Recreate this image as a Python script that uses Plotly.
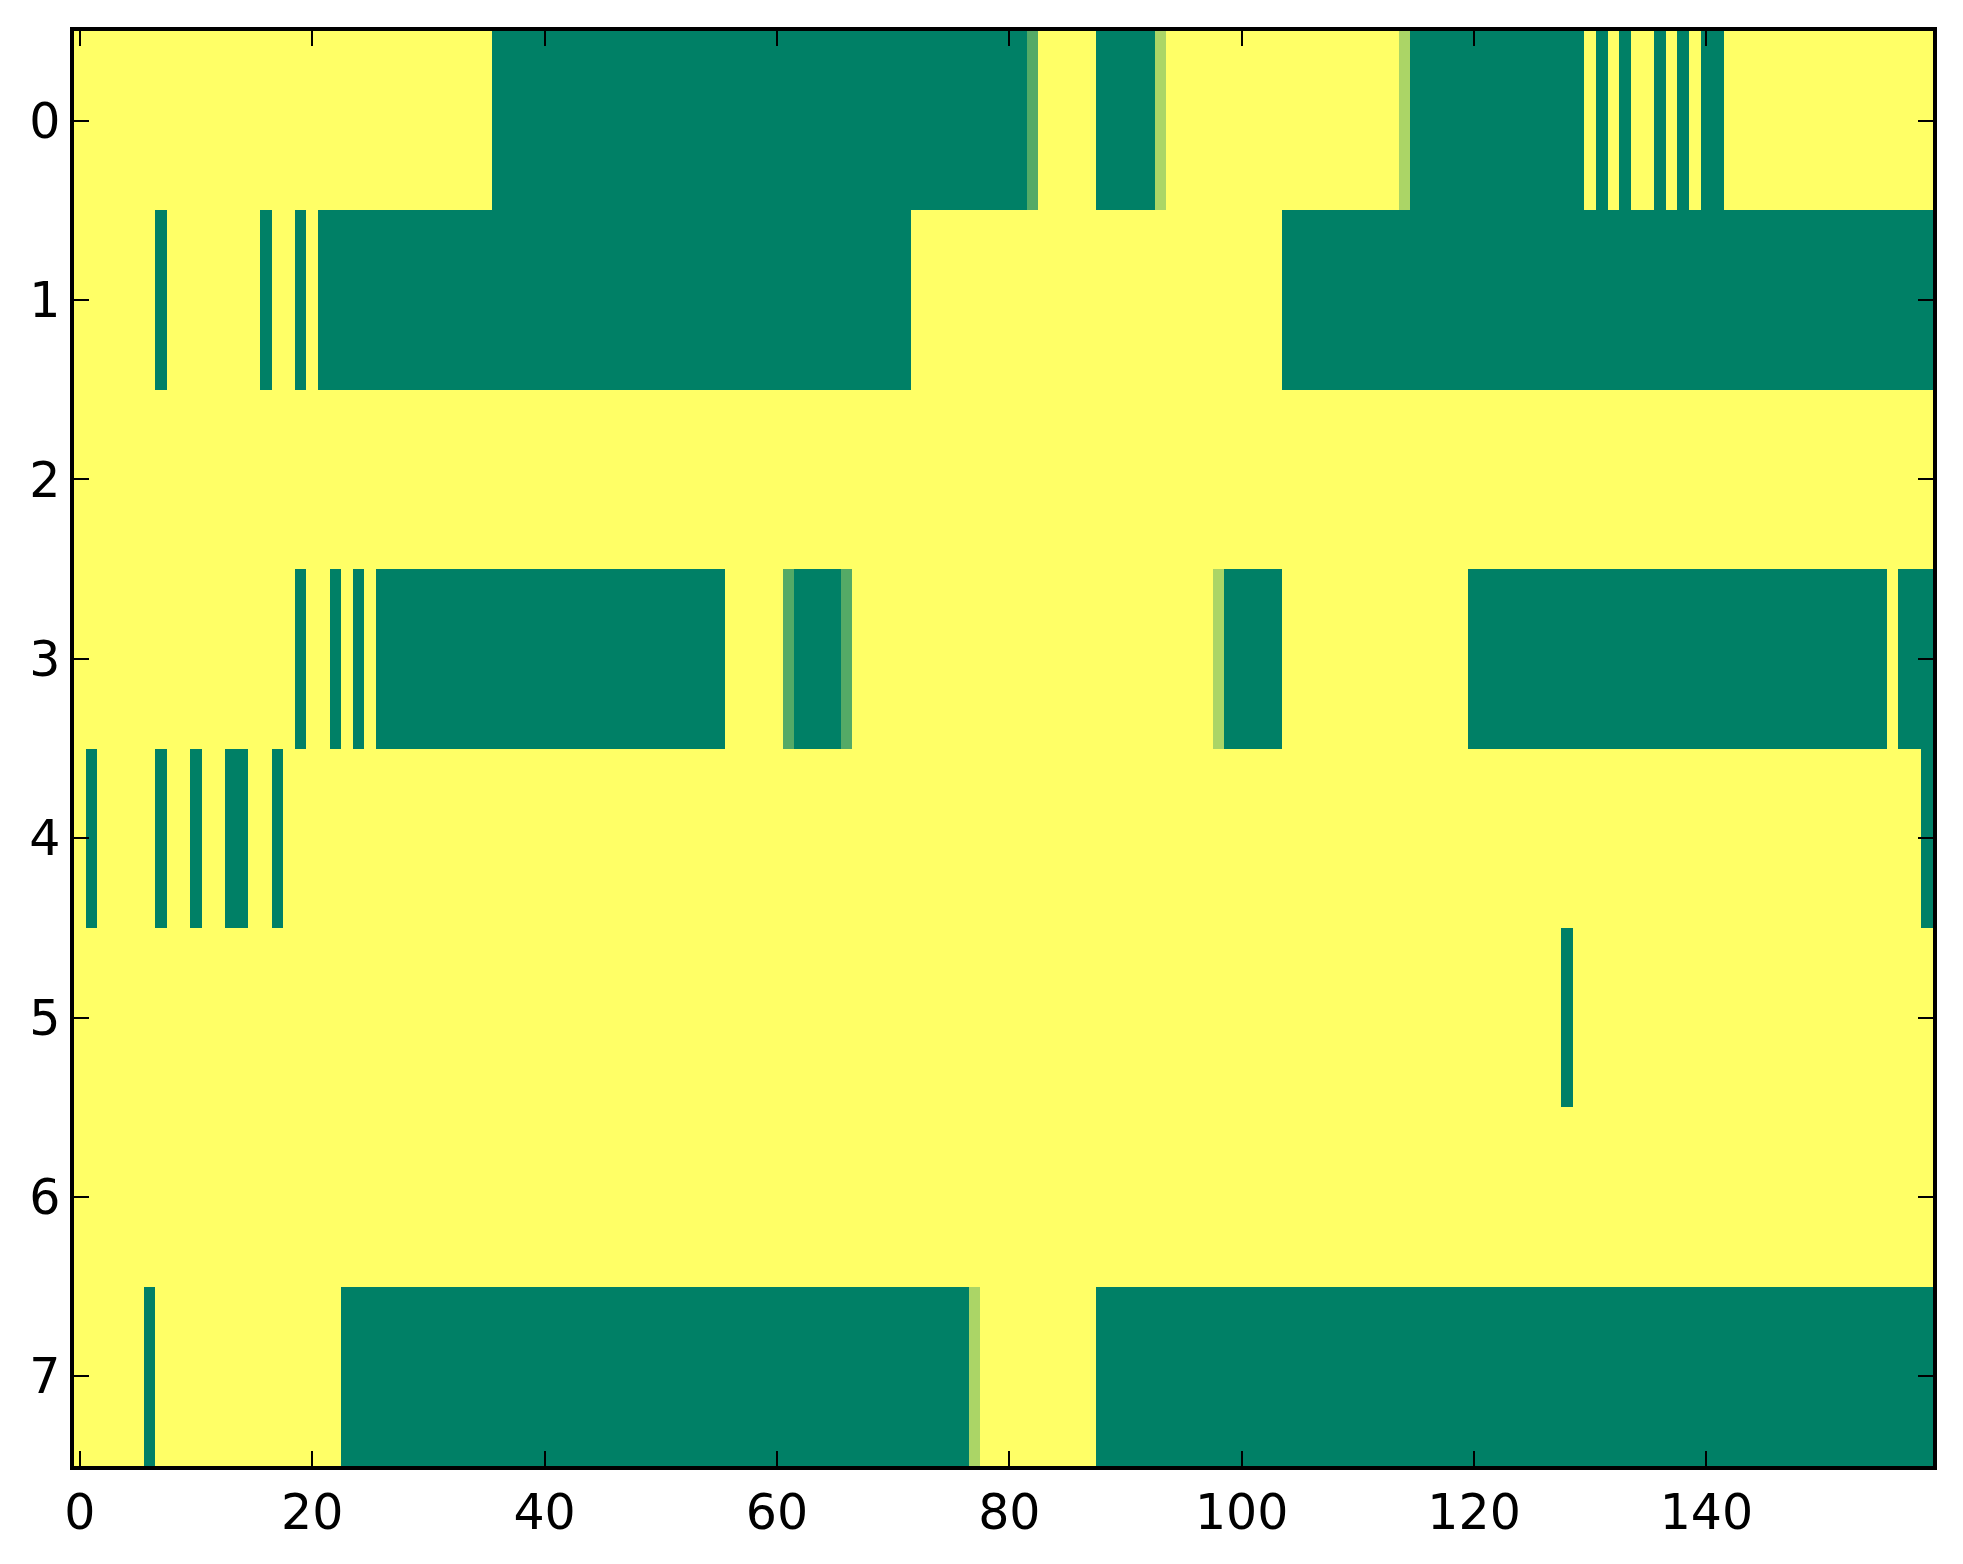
import plotly.graph_objects as go

# runs of (first column, last column, value) per row
row0 = [(0, 35, 1), (36, 81, 0), (82, 82, 0.33), (83, 87, 1), (88, 92, 0), (93, 93, 0.67),
        (94, 113, 1), (114, 114, 0.67), (115, 129, 0), (130, 130, 1), (131, 131, 0),
        (132, 132, 1), (133, 133, 0), (134, 135, 1), (136, 136, 0), (137, 137, 1),
        (138, 138, 0), (139, 139, 1), (140, 141, 0), (142, 159, 1)]
row1 = [(0, 6, 1), (7, 7, 0), (8, 15, 1), (16, 16, 0), (17, 18, 1), (19, 19, 0),
        (20, 20, 1), (21, 71, 0), (72, 103, 1), (104, 159, 0)]
row2 = [(0, 159, 1)]
row3 = [(0, 18, 1), (19, 19, 0), (20, 21, 1), (22, 22, 0), (23, 23, 1), (24, 24, 0),
        (25, 25, 1), (26, 55, 0), (56, 60, 1), (61, 61, 0.33), (62, 65, 0), (66, 66, 0.33),
        (67, 97, 1), (98, 98, 0.67), (99, 103, 0), (104, 119, 1), (120, 155, 0),
        (156, 156, 1), (157, 159, 0)]
row4 = [(0, 0, 1), (1, 1, 0), (2, 6, 1), (7, 7, 0), (8, 9, 1), (10, 10, 0), (11, 12, 1),
        (13, 14, 0), (15, 16, 1), (17, 17, 0), (18, 158, 1), (159, 159, 0)]
row5 = [(0, 127, 1), (128, 128, 0), (129, 159, 1)]
row6 = [(0, 159, 1)]
row7 = [(0, 5, 1), (6, 6, 0), (7, 22, 1), (23, 76, 0), (77, 77, 0.67), (78, 87, 1),
        (88, 159, 0)]

rows = [row0, row1, row2, row3, row4, row5, row6, row7]
n_cols = 160
x_ticks = [0, 20, 40, 60, 80, 100, 120, 140]
y_ticks = [0, 1, 2, 3, 4, 5, 6, 7]


def expand(runs):
    vals = []
    for a, b, v in runs:
        vals += [v] * (b - a + 1)
    return vals


z = [expand(r) for r in rows]

# matplotlib "summer" colormap
summer = [[0, "rgb(0,128,102)"], [1, "rgb(255,255,102)"]]

fig = go.Figure(go.Heatmap(
    z=z, x=list(range(n_cols)), y=list(range(len(rows))),
    colorscale=summer, zmin=0, zmax=1, showscale=False, hoverongaps=False,
))

axis_style = dict(
    showline=True, linecolor="black", linewidth=3.5, mirror="ticks",
    ticks="inside", ticklen=15, tickwidth=2, tickcolor="black",
    showgrid=False, zeroline=False,
    tickfont=dict(family="DejaVu Sans", size=49, color="black"),
)

fig.update_xaxes(range=[-0.5, n_cols - 0.5], tickvals=x_ticks, **axis_style)
fig.update_yaxes(range=[len(rows) - 0.5, -0.5], tickvals=y_ticks, **axis_style)

fig.update_layout(
    width=1963, height=1564,
    margin=dict(l=66, r=38, t=23, b=106),
    paper_bgcolor="white", plot_bgcolor="white",
)

fig.write_html("out.html")
